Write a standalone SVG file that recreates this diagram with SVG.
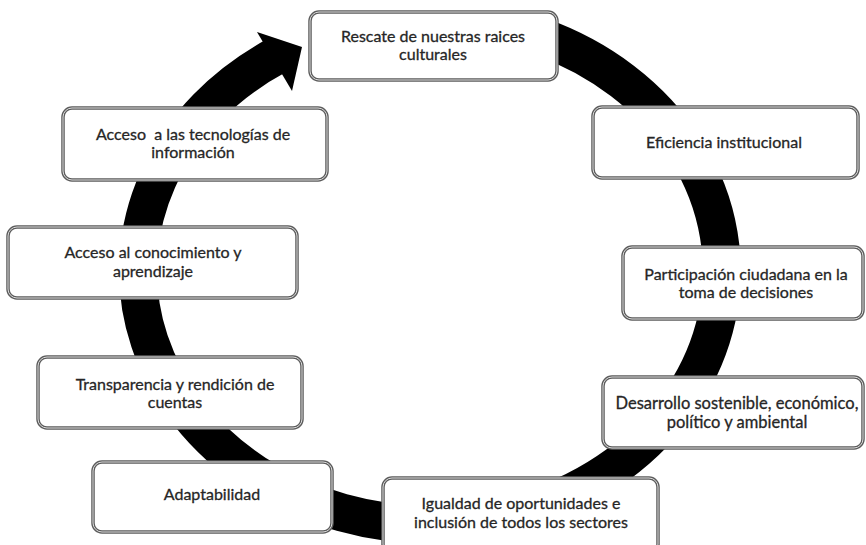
<svg xmlns="http://www.w3.org/2000/svg" width="866" height="545" viewBox="0 0 866 545">
<style>
.bo{fill:#fff;stroke:#5c5c5c;stroke-width:3.5}
.bi{fill:none;stroke:#dcdcdc;stroke-width:1}
.t{font-family:Lato,"Liberation Sans",sans-serif;font-size:16px;fill:#262626;text-anchor:middle;stroke:#262626;stroke-width:0.3}
</style>
<rect width="866" height="545" fill="#fff"/>
<g id="connectors">
<path d="M540,36.5 A295,254 0 0 1 433,525 A295,254 0 0 1 276.7,55.6" fill="none" stroke="#000" stroke-width="38"/>
<polygon points="257,32 302,47 292,91" fill="#000"/>
</g>
<g id="n1"><rect class="bo" x="310" y="12" width="247" height="68" rx="9"/><rect class="bi" x="310" y="12" width="247" height="68" rx="9"/>
<text class="t" x="433" y="42">Rescate de nuestras raices</text><text class="t" x="433" y="60">culturales</text></g>
<g id="n2"><rect class="bo" x="593" y="107" width="265" height="71" rx="9"/><rect class="bi" x="593" y="107" width="265" height="71" rx="9"/>
<text class="t" x="724" y="148">Eficiencia institucional</text></g>
<g id="n3"><rect class="bo" x="623" y="247" width="240" height="72" rx="9"/><rect class="bi" x="623" y="247" width="240" height="72" rx="9"/>
<text class="t" x="746" y="280">Participación ciudadana en la</text><text class="t" x="746" y="298">toma de decisiones</text></g>
<g id="n4"><rect class="bo" x="603" y="377" width="260" height="71" rx="9"/><rect class="bi" x="603" y="377" width="260" height="71" rx="9"/>
<text class="t" x="737" y="409" style="font-size:16.5px">Desarrollo sostenible, económico,</text><text class="t" x="737" y="428" style="font-size:16.5px">político y ambiental</text></g>
<g id="n5"><rect class="bo" x="383" y="478" width="275" height="75" rx="9"/><rect class="bi" x="383" y="478" width="275" height="75" rx="9"/>
<text class="t" x="521" y="509">Igualdad de oportunidades e</text><text class="t" x="521" y="528">inclusión de todos los sectores</text></g>
<g id="n6"><rect class="bo" x="93" y="462" width="239" height="70" rx="9"/><rect class="bi" x="93" y="462" width="239" height="70" rx="9"/>
<text class="t" x="212" y="500">Adaptabilidad</text></g>
<g id="n7"><rect class="bo" x="38" y="357" width="264" height="71" rx="9"/><rect class="bi" x="38" y="357" width="264" height="71" rx="9"/>
<text class="t" x="175" y="390">Transparencia y rendición de</text><text class="t" x="175" y="408">cuentas</text></g>
<g id="n8"><rect class="bo" x="8" y="227" width="289" height="71" rx="9"/><rect class="bi" x="8" y="227" width="289" height="71" rx="9"/>
<text class="t" x="153" y="258">Acceso al conocimiento y</text><text class="t" x="153" y="277">aprendizaje</text></g>
<g id="n9"><rect class="bo" x="63" y="108" width="264" height="72" rx="9"/><rect class="bi" x="63" y="108" width="264" height="72" rx="9"/>
<text class="t" x="193" y="140" xml:space="preserve">Acceso  a las tecnologías de</text><text class="t" x="193" y="158">información</text></g>
</svg>
